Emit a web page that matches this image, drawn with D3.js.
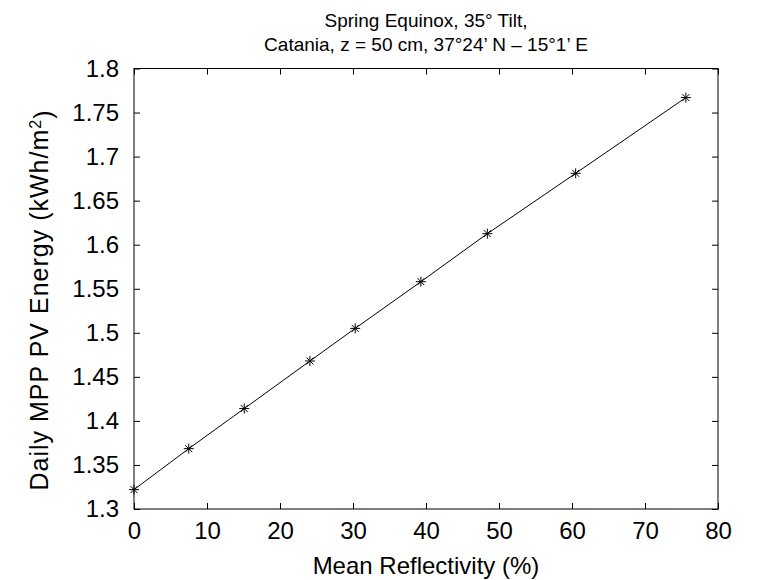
<!DOCTYPE html>
<html><head><meta charset="utf-8">
<script src="https://cdn.jsdelivr.net/npm/d3@7"></script>
<style>body{margin:0;background:#fff}svg{display:block}text{font-family:"Liberation Sans",Arial,Helvetica,sans-serif;fill:#000}</style>
</head><body><svg id="c" width="759" height="580"></svg>
<script>
const reflectivity = [0, 7.5, 15.1, 24.1, 30.3, 39.3, 48.4, 60.5, 75.6];
const energy = [1.322, 1.3685, 1.414, 1.468, 1.505, 1.558, 1.6125, 1.681, 1.767];
const xTicks = [0, 10, 20, 30, 40, 50, 60, 70, 80];
const yTicks = [1.3, 1.35, 1.4, 1.45, 1.5, 1.55, 1.6, 1.65, 1.7, 1.75, 1.8];
const titleLines = ["Spring Equinox, 35° Tilt,", "Catania, z = 50 cm, 37°24’ N – 15°1’ E"];
const xLabel = "Mean Reflectivity (%)";

const svg = d3.select("#c");
const L = 134, R = 718, T = 68.5, B = 509;
const x = d3.scaleLinear().domain([0, 80]).range([L, R]);
const y = d3.scaleLinear().domain([1.3, 1.8]).range([B, T]);
const tl = 6;

const fmtY = d => String(+d.toFixed(2));

// axes
const gB = svg.append("g").attr("transform", `translate(0,${B})`)
  .call(d3.axisBottom(x).tickValues(xTicks).tickSizeInner(-tl).tickSizeOuter(0).tickPadding(13).tickFormat(d3.format("d")));
const gT = svg.append("g").attr("transform", `translate(0,${T})`)
  .call(d3.axisTop(x).tickValues(xTicks).tickSizeInner(-tl).tickSizeOuter(0).tickFormat(""));
const gL = svg.append("g").attr("transform", `translate(${L},0)`)
  .call(d3.axisLeft(y).tickValues(yTicks).tickSizeInner(-tl).tickSizeOuter(0).tickPadding(15).tickFormat(fmtY));
const gR = svg.append("g").attr("transform", `translate(${R},0)`)
  .call(d3.axisRight(y).tickValues(yTicks).tickSizeInner(-tl).tickSizeOuter(0).tickFormat(""));
[gB, gT, gL, gR].forEach(g => {
  g.select(".domain").remove();
  g.selectAll("line").attr("stroke", "#000").attr("stroke-width", 1);
  g.selectAll("text").style("font-size", "24px").attr("font-family", null);
});
gB.selectAll("text").attr("dy", "0.71em");

svg.append("rect").attr("x", L).attr("y", T).attr("width", R - L).attr("height", B - T)
  .attr("fill", "none").attr("stroke", "#000").attr("stroke-width", 1);

// line
const pts = reflectivity.map((r, i) => [r, energy[i]]);
svg.append("path").datum(pts)
  .attr("d", d3.line().x(d => x(d[0])).y(d => y(d[1])))
  .attr("fill", "none").attr("stroke", "#000").attr("stroke-width", 1);

// asterisk markers
const s = 5;
const star = `M${-s},0L${s},0M0,${-s}L0,${s}M${-s*0.7},${-s*0.7}L${s*0.7},${s*0.7}M${-s*0.7},${s*0.7}L${s*0.7},${-s*0.7}`;
svg.append("g").selectAll("path").data(pts).join("path")
  .attr("transform", d => `translate(${x(d[0])},${y(d[1])})`)
  .attr("d", star).attr("stroke", "#000").attr("stroke-width", 1).attr("fill", "none");

// title
const cx = (L + R) / 2;
svg.append("text").attr("x", cx).attr("y", 27).attr("text-anchor", "middle").style("font-size", "19px").text(titleLines[0]);
svg.append("text").attr("x", cx).attr("y", 51).attr("text-anchor", "middle").style("font-size", "19px").text(titleLines[1]);

// x label
svg.append("text").attr("x", cx).attr("y", 574).attr("text-anchor", "middle").style("font-size", "24px").text(xLabel);

// y label
const yl = svg.append("text").attr("transform", `translate(48,300) rotate(-90)`)
  .attr("text-anchor", "middle").style("font-size", "25px").style("letter-spacing", "1px");
yl.append("tspan").text("Daily MPP PV Energy (kWh/m");
yl.append("tspan").attr("dy", "-0.45em").style("font-size", "16px").text("2");
yl.append("tspan").attr("dy", "0.45em").text(")");
</script></body></html>
